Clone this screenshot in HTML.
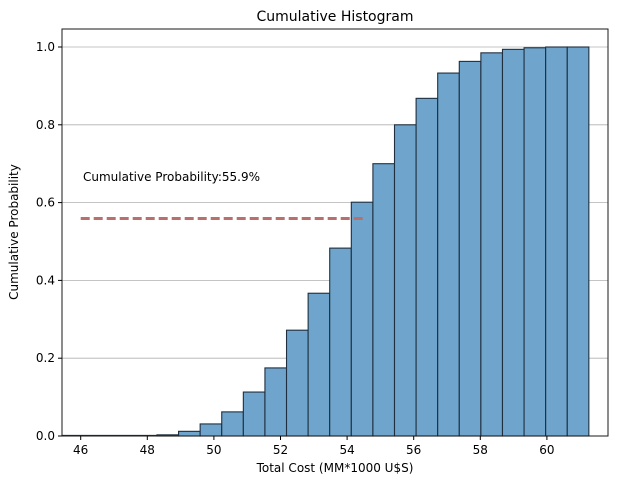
<!DOCTYPE html>
<html><head><meta charset="utf-8"><style>
body{margin:0;background:#fff;font-family:"Liberation Sans","DejaVu Sans",sans-serif}
</style></head><body>
<svg id="chart" width="624" height="483" xmlns="http://www.w3.org/2000/svg" font-family="DejaVu Sans, Liberation Sans, sans-serif">
<rect width="624" height="483" fill="#fff"/>
<text x="335" y="21" text-anchor="middle" font-size="14" fill="#000">Cumulative Histogram</text>
<g id="grid"></g><g id="bars"></g><g id="overlay"></g><g id="axes"></g>
</svg>
<script>
const binStart = 48.29;
const binWidth = 0.6485;
const cumValues = [0.003,0.012,0.031,0.062,0.113,0.175,0.272,0.367,0.483,0.601,0.70,0.80,0.868,0.933,0.963,0.985,0.994,0.998,1.0,1.0];
const xTicks = [46,48,50,52,54,56,58,60];
const yTicks = [0,0.2,0.4,0.6,0.8,1.0];
const yTickLabels = ["0.0","0.2","0.4","0.6","0.8","1.0"];
const markerX = [46, 54.5];
const markerP = 0.559;
const markerLabel = "Cumulative Probability:55.9%";

const NS="http://www.w3.org/2000/svg";
const L=62,R=608,T=29,B=436;
const X=v=>80.7+(v-46)*33.3;
const Y=v=>436-v*389;
function mk(parent,tag,attrs){const e=document.createElementNS(NS,tag);for(const k in attrs)e.setAttribute(k,attrs[k]);document.getElementById(parent).appendChild(e);return e;}

yTicks.forEach((t,i)=>{
  if(t>0){const g=mk('grid','line',{x1:L,x2:R,y1:Y(t),y2:Y(t),stroke:'#b0b0b0','stroke-width':0.8});
  
  }
});
mk('bars','line',{x1:L,x2:X(binStart),y1:B-0.5,y2:B-0.5,stroke:'#1f2f3f','stroke-width':1.2});
cumValues.forEach((v,i)=>{
  const x0=X(binStart+i*binWidth),x1=X(binStart+(i+1)*binWidth);
  const r=mk('bars','rect',{x:x0,y:Y(v),width:x1-x0,height:B-Y(v),fill:'#6fa5cc',stroke:'#1f2f3f','stroke-width':1.1});
  
  
});
const dl=mk('overlay','line',{x1:X(markerX[0]),x2:X(markerX[1]),y1:Y(markerP),y2:Y(markerP),stroke:'#b8706c','stroke-width':3,'stroke-dasharray':'9,4'});


const lt=mk('overlay','text',{x:83,y:181,'font-size':12,fill:'#000'});lt.textContent=markerLabel;



const fr=mk('axes','rect',{x:L,y:T,width:R-L,height:B-T,fill:'none',stroke:'#1a1a1a','stroke-width':1});


xTicks.forEach(t=>{
  mk('axes','line',{x1:X(t),x2:X(t),y1:B,y2:B+4,stroke:'#000'});
  const tx=mk('axes','text',{x:X(t),y:B+18,'text-anchor':'middle','font-size':12,fill:'#000'});tx.textContent=t;
  
  
});
yTicks.forEach((t,i)=>{
  mk('axes','line',{x1:L-4,x2:L,y1:Y(t),y2:Y(t),stroke:'#000'});
  const tx=mk('axes','text',{x:L-7,y:Y(t)+4,'text-anchor':'end','font-size':12,fill:'#000'});tx.textContent=yTickLabels[i];
  
  
});
const xt=mk('axes','text',{x:335,y:472,'text-anchor':'middle','font-size':12,fill:'#000'});xt.textContent="Total Cost (MM*1000 U$S)";


const yt=mk('axes','text',{x:18,y:232,'text-anchor':'middle','font-size':12,fill:'#000',transform:'rotate(-90 18 232)'});yt.textContent="Cumulative Probability";


</script>
</body></html>
